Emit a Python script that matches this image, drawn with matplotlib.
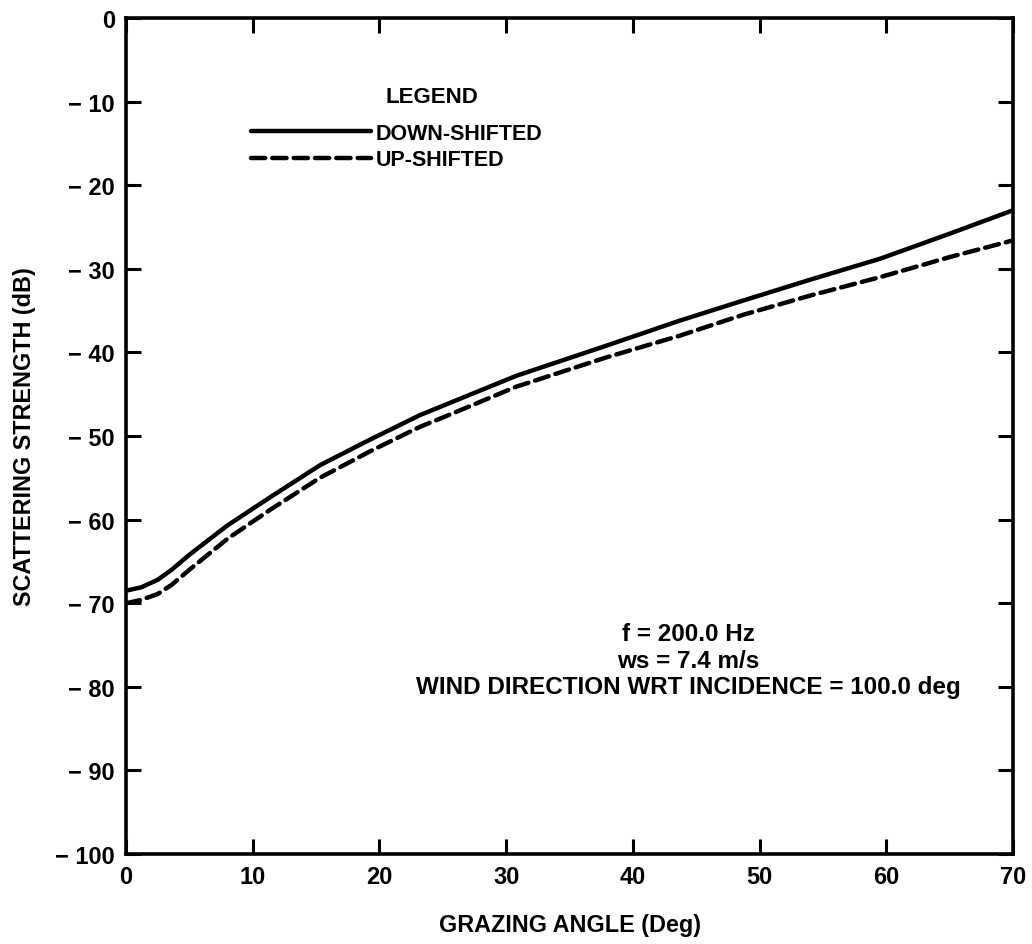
import numpy as np
import matplotlib
matplotlib.use("Agg")
from matplotlib import pyplot as plt

plt.rcParams['font.family'] = ['Liberation Sans', 'DejaVu Sans']

# grazing angle (deg) and scattering strength (dB)
Angle_Down = [0, 1.2, 2.5, 3.6, 5, 8, 11.4, 15.3, 19.3, 23.2, 25.3, 30.8, 37.9, 43.7, 48.7, 54, 59.5, 65, 70]
Down_Shifted = [-68.5, -68.1, -67.2, -66.0, -64.2, -60.7, -57.3, -53.5, -50.4, -47.5, -46.2, -42.8, -39.2,
                -36.2, -33.8, -31.3, -28.8, -25.8, -23.0]

Angle_Up = [0, 1.2, 2.5, 3.6, 5, 8, 11.4, 15.3, 19.3, 23.2, 25.3, 30.8, 37.9, 43.7, 48.7, 54, 59.5, 65, 70]
Up_Shifted = [-70.0, -69.6, -68.9, -67.8, -66.0, -62.3, -58.8, -55.0, -51.8, -48.9, -47.6, -44.1, -40.6,
              -38.0, -35.5, -33.2, -31.0, -28.6, -26.6]

X_Ticks = [0, 10, 20, 30, 40, 50, 60, 70]
Y_Ticks = [0, -10, -20, -30, -40, -50, -60, -70, -80, -90, -100]
Y_Tick_Labels = ['0'] + ['\u2212 ' + str(-v) for v in Y_Ticks[1:]]

Info_Lines = ["f = 200.0 Hz", "ws = 7.4 m/s", "WIND DIRECTION WRT INCIDENCE = 100.0 deg"]

fig = plt.figure(figsize=(10.32, 9.45), dpi=100)
ax = fig.add_axes([0.1221, 0.0952, 0.8595, 0.8847])

ax.plot(Angle_Down, Down_Shifted, color='black', lw=3.2, solid_capstyle='round', label='DOWN-SHIFTED')
ax.plot(Angle_Up, Up_Shifted, color='black', lw=3.2, ls=(0, (3.2, 1.6)), dash_capstyle='round',
        label='UP-SHIFTED')

ax.set_xlim(0, 70)
ax.set_ylim(-100, 0)
ax.set_xticks(X_Ticks)
ax.set_xticklabels([str(v) for v in X_Ticks])
ax.set_yticks(Y_Ticks)
ax.set_yticklabels(Y_Tick_Labels)

ax.tick_params(direction='in', top=True, right=True, length=11, width=2.2, pad=8,
               labelsize=17)
for lbl in ax.get_xticklabels() + ax.get_yticklabels():
    lbl.set_fontweight('bold')
for sp in ax.spines.values():
    sp.set_linewidth(2.6)

ax.set_xlabel("GRAZING ANGLE (Deg)", fontsize=16.8, fontweight='bold', labelpad=18)
ax.set_ylabel("SCATTERING STRENGTH (dB)", fontsize=16.8, fontweight='bold', labelpad=14)

# legend block
ax.text(0.292, 0.906, "LEGEND", transform=ax.transAxes, fontsize=16, fontweight='bold',
        ha='left', va='center')
leg = ax.legend(loc='upper left', bbox_to_anchor=(0.131, 0.885), frameon=False, handlelength=5.6,
                handletextpad=0.2, labelspacing=0.25, borderaxespad=0,
                prop={'size': 15.5, 'weight': 'bold'})

ax.text(0.634, 0.232, "\n".join(Info_Lines), transform=ax.transAxes, fontsize=17.5,
        fontweight='bold', ha='center', va='center', multialignment='center', linespacing=1.2)

plt.savefig("out.png", dpi=100)
